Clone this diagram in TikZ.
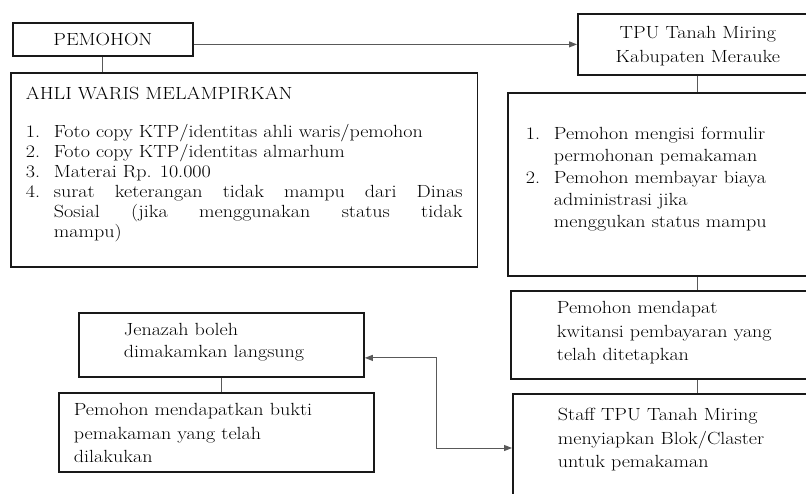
\documentclass[tikz,border=0pt]{standalone}
\usepackage{fontspec}
\usepackage{graphicx}
\usetikzlibrary{arrows.meta,calc}
% teks dilebarkan mendatar seperti pada gambar asli
\newcommand{\lebar}[2]{\scalebox{1.14}[1]{\parbox[t]{#1}{#2}}}

\begin{document}
\begin{tikzpicture}[x=1pt,y=-1pt,
  kotak/.style={draw=black!90, line width=1.8pt, anchor=north west, inner ysep=0pt, font=\fontsize{17.6pt}{23.5pt}\selectfont},
  garis/.style={draw=black!65, line width=1pt},
  panah/.style={garis, -{Triangle[length=8pt,width=6pt]}}]
\useasboundingbox (0,0) rectangle (806,494);
\clip (0,0) rectangle (806,494);
% kiri atas
\node[kotak, inner xsep=0pt, text height=23pt, text depth=10pt] (pemohon) at (12,22) {\lebar{157.9pt}{\centering PEMOHON}};
\node[kotak, inner xsep=15pt, text height=27pt, text depth=167pt, font=\fontsize{17.6pt}{20pt}\selectfont] (ahli) at (10,72) {\lebar{383pt}{AHLI WARIS MELAMPIRKAN\par\vspace{18pt}\noindent
\begin{tabular}[t]{@{}p{24.6pt}@{}p{358.4pt}@{}}
1. & Foto copy KTP/identitas ahli waris/pemohon\\
2. & Foto copy KTP/identitas almarhum\\
3. & Materai Rp. 10.000\\
4. & surat keterangan tidak mampu dari Dinas\linebreak Sosial (jika menggunakan status tidak\linebreak mampu)
\end{tabular}}};
% kanan
\node[kotak, inner xsep=0pt, text height=24.5pt, text depth=36.5pt, font=\fontsize{17.6pt}{24pt}\selectfont] (tpu) at (577,13) {\lebar{210.5pt}{\centering TPU Tanah Miring\\Kabupaten Merauke}};
\node[kotak, inner xsep=18pt, text height=47pt, text depth=136pt, font=\fontsize{17.6pt}{22pt}\selectfont] (syarat) at (507,92) {\lebar{263.2pt}{\begin{tabular}[t]{@{}p{24.6pt}@{}p{238.6pt}@{}}
1. & Pemohon mengisi formulir\newline permohonan pemakaman\\
2. & Pemohon membayar biaya\newline administrasi jika\newline menggukan status mampu
\end{tabular}}};
\node[kotak, inner xsep=46pt, text height=23pt, text depth=65pt] (kwitansi) at (510,290) {\lebar{228.1pt}{\raggedright Pemohon mendapat\\kwitansi pembayaran yang\\telah ditetapkan}};
\node[kotak, inner xsep=45pt, text height=27pt, text depth=130pt] (staff) at (512,393) {\lebar{228.1pt}{\raggedright Staff TPU Tanah Miring\\menyiapkan Blok/Claster\\untuk pemakaman}};
% kiri bawah
\node[kotak, inner xsep=0pt, text height=23pt, text depth=41pt, font=\fontsize{17.6pt}{22pt}\selectfont] (jenazah) at (78,312) {\lebar{250pt}{\raggedright\leftskip=39.5pt Jenazah boleh\\dimakamkan langsung}};
\node[kotak, inner xsep=15pt, text height=23pt, text depth=56pt] (bukti) at (58,392) {\lebar{250pt}{\raggedright Pemohon mendapatkan bukti\\pemakaman yang telah\\dilakukan}};
% garis
\draw[panah] (tpu.west -| pemohon.east) -- (tpu.west);
\draw[garis] (pemohon.south) -- (pemohon.south |- ahli.north);
\draw[garis] (tpu.south) -- (tpu.south |- syarat.north);
\draw[garis] (tpu.south |- syarat.south) -- (tpu.south |- kwitansi.north);
\draw[garis] (tpu.south |- kwitansi.south) -- (tpu.south |- staff.north);
\draw[garis] (jenazah.south) -- (jenazah.south |- bukti.north);
\draw[garis, {Triangle[length=8pt,width=6pt]}-{Triangle[length=8pt,width=6pt]}] ($(jenazah.east)+(0,13)$) -| ($(staff.north west)+(-76,55)$) -- ($(staff.north west)+(0,55)$);
\end{tikzpicture}
\end{document}
